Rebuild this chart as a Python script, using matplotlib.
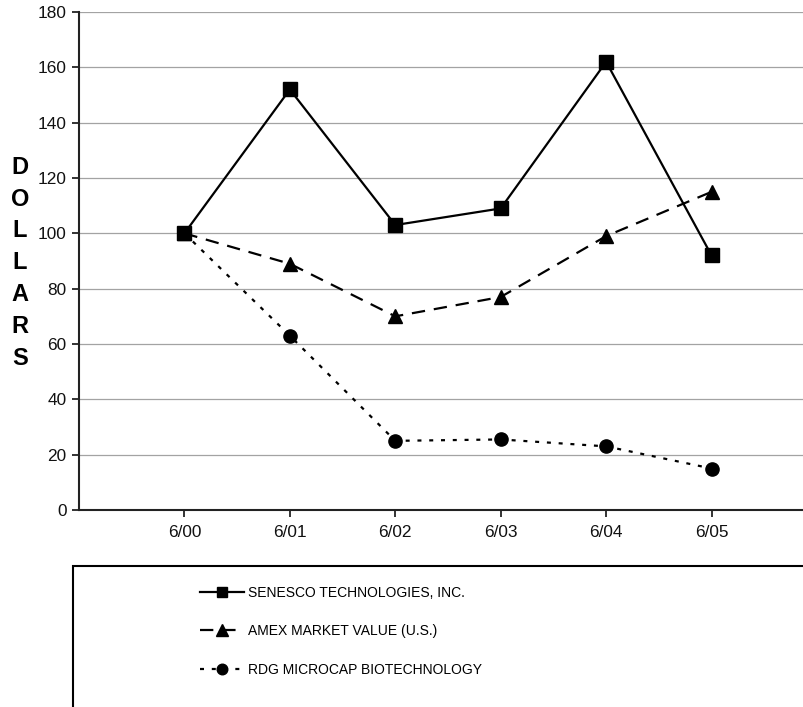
import matplotlib
matplotlib.use("Agg")
import matplotlib.pyplot as plt
from matplotlib.patches import Rectangle

# ── Data ──────────────────────────────────────────────────────────────────────
periods = ["6/00", "6/01", "6/02", "6/03", "6/04", "6/05"]
senesco = [100, 152, 103, 109, 162, 92]
amex = [100, 89, 70, 77, 99, 115]
rdg = [100, 63, 25, 25.5, 23, 15]
y_ticks = [0, 20, 40, 60, 80, 100, 120, 140, 160, 180]
series_names = ["SENESCO TECHNOLOGIES, INC.",
                "AMEX MARKET VALUE (U.S.)",
                "RDG MICROCAP BIOTECHNOLOGY"]
axis_title = "DOLLARS"

plt.rcParams["font.family"] = ["Liberation Sans", "DejaVu Sans"]

W, H = 804, 707
fig = plt.figure(figsize=(W / 100, H / 100), dpi=100)
fig.patch.set_facecolor("white")

# axes in pixel terms: left spine x=79, top y=12, bottom y=510, runs off right edge
left, top, bottom, right = 79, 12, 510, 817
ax = fig.add_axes([left / W, 1 - bottom / H, (right - left) / W, (bottom - top) / H])

x = list(range(len(periods)))
ax.plot(x, senesco, color="black", lw=1.6, marker="s", ms=9.5,
        label=series_names[0], clip_on=False, zorder=4)
ax.plot(x, amex, color="black", lw=1.6, marker="^", ms=10,
        dashes=(6, 4), label=series_names[1], clip_on=False, zorder=4)
ax.plot(x, rdg, color="black", lw=1.6, marker="o", ms=9.5,
        dashes=(1.8, 3.5), label=series_names[2], clip_on=False, zorder=4)

ax.set_xlim(-1, 6)
ax.set_ylim(0, 180)
ax.set_xticks(x)
ax.set_xticklabels(periods)
ax.set_yticks(y_ticks)

ax.yaxis.grid(True, color="#a3a3a3", lw=0.9)
ax.set_axisbelow(True)
for s in ["top", "right"]:
    ax.spines[s].set_visible(False)
for s in ["left", "bottom"]:
    ax.spines[s].set_linewidth(1.5)
    ax.spines[s].set_color("#222222")

ax.tick_params(axis="y", direction="out", length=5, width=1.2, pad=4,
               labelsize=12.4, colors="#111111")
ax.tick_params(axis="x", direction="out", length=5, width=1.2, pad=6,
               labelsize=12.4, colors="#111111")

# vertical stacked axis title
for i, ch in enumerate(axis_title):
    fig.text(20 / W, 1 - (167.3 + i * 31.8) / H, ch, ha="center", va="center",
             fontsize=17, fontweight="bold")

# legend box (runs past the right and bottom edges)
fig.add_artist(Rectangle((73 / W, -0.05), 1.0, 1 - 566 / H + 0.05,
                         transform=fig.transFigure, fill=False,
                         edgecolor="black", lw=1.5))

leg = fig.legend(loc="upper left", bbox_to_anchor=(200 / W, 1 - 586 / H),
                 frameon=False, borderpad=0, borderaxespad=0,
                 handlelength=3.2, handletextpad=0.25,
                 labelspacing=1.75, markerscale=0.8,
                 prop={"size": 10})

fig.savefig("out.png", dpi=100, facecolor="white")
